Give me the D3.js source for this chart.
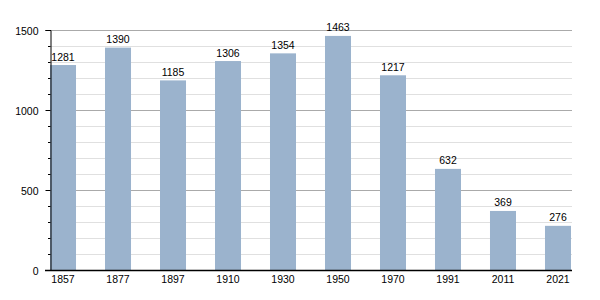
<!DOCTYPE html>
<html><head><meta charset="utf-8">
<script src="https://cdn.jsdelivr.net/npm/d3@7"></script>
<style>body{margin:0;background:#fff}svg text{font-family:"Liberation Sans",Arial,sans-serif;fill:#000}</style>
</head><body>
<svg id="c" width="600" height="300"></svg>
<script>
const years = ["1857","1877","1897","1910","1930","1950","1970","1991","2011","2021"];
const population = [1281,1390,1185,1306,1354,1463,1217,632,369,276];
const yTicks = [0,500,1000,1500];

(function(){
const svg = d3.select("#c");
const mLeft = 50, mRight = 571, mTop = 30, mBottom = 270;
const x = d3.scaleBand().domain(years).range([mLeft, mRight]).paddingInner(0.527).paddingOuter(0);
const y = d3.scaleLinear().domain([0,1500]).range([mBottom, mTop]);

const minor = d3.range(100,1600,100).filter(v => v % 500 !== 0);
svg.append("g").selectAll("line").data(minor).join("line")
  .attr("x1", mLeft).attr("x2", mRight+1)
  .attr("y1", d => Math.round(y(d))+0.5).attr("y2", d => Math.round(y(d))+0.5)
  .attr("stroke", "#e0e0e0").attr("stroke-width", 1);
svg.append("g").selectAll("line").data(yTicks.filter(v=>v>0)).join("line")
  .attr("x1", mLeft).attr("x2", mRight+1)
  .attr("y1", d => Math.round(y(d))+0.5).attr("y2", d => Math.round(y(d))+0.5)
  .attr("stroke", "#aaaaaa").attr("stroke-width", 1);

svg.append("g").selectAll("rect").data(population).join("rect")
  .attr("x", (d,i) => x(years[i])).attr("width", x.bandwidth())
  .attr("y", d => y(d)).attr("height", d => y(0) - y(d))
  .attr("fill", "#9bb3cd");

svg.append("g").selectAll("text").data(population).join("text")
  .attr("x", (d,i) => x(years[i]) + x.bandwidth()/2)
  .attr("y", d => y(d) - 4.5)
  .attr("text-anchor", "middle").attr("font-size", "10.5px")
  .text(d => d);

const yAxis = d3.axisLeft(y).tickValues(yTicks).tickSize(5).tickPadding(7).tickFormat(d3.format("d"));
const gy = svg.append("g").attr("transform", `translate(${mLeft+0.5},0)`).call(yAxis);
gy.select(".domain").attr("stroke", "#000");
gy.selectAll(".tick text").attr("font-size", "10.5px").attr("dy", "0.45em");
gy.append("g").selectAll("line").data(minor).join("line")
  .attr("x1", -2.5).attr("x2", 0)
  .attr("y1", d => Math.round(y(d))+0.5).attr("y2", d => Math.round(y(d))+0.5)
  .attr("stroke", "#000");

const xAxis = d3.axisBottom(x).tickSize(0).tickPadding(5);
const gx = svg.append("g").attr("transform", `translate(0,${mBottom+0.5})`).call(xAxis);
gx.select(".domain").remove();
gx.append("line").attr("x1", 45).attr("x2", mRight+1).attr("stroke", "#000").attr("stroke-width", 1.5);
gx.selectAll(".tick text").attr("font-size", "10.5px");
})();
</script>
</body></html>
